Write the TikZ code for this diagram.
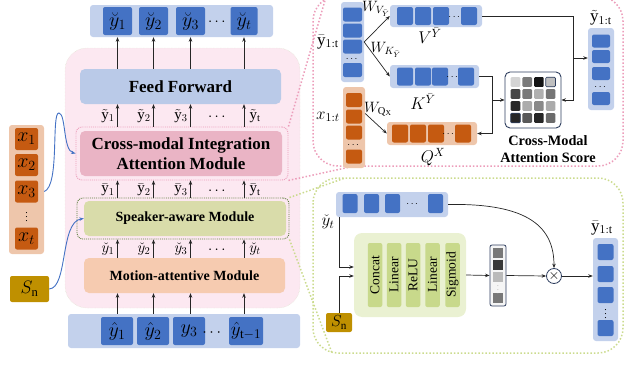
\RequirePackage{fix-cm}
\documentclass[tikz,border=0pt]{standalone}
\usepackage{amssymb}
\usepackage{amsmath}
\usepackage{fontspec}
\setmainfont{Liberation Serif}
\usepackage{tikz}
\usetikzlibrary{arrows,arrows.meta,calc}

\definecolor{cellblue}{HTML}{4472C4}
\definecolor{barblue}{HTML}{C3D1EC}
\definecolor{ffblue}{HTML}{BACAE8}
\definecolor{pinkbg}{HTML}{FCE8F1}
\definecolor{cmiapink}{HTML}{EAB4C5}
\definecolor{spkgreen}{HTML}{D9DCAA}
\definecolor{motionorg}{HTML}{F6CBB0}
\definecolor{cellorange}{HTML}{C55A11}
\definecolor{barorange}{HTML}{EEC6AB}
\definecolor{snGold}{HTML}{BF9000}
\definecolor{pinkdot}{HTML}{EC9DBA}
\definecolor{greendot}{HTML}{CBDB8E}
\definecolor{darkgreen}{HTML}{5E7F3E}
\definecolor{faintgreen}{HTML}{D5E2C4}
\definecolor{modgreen}{HTML}{EAF1D2}
\definecolor{layergreen}{HTML}{C8D98B}
\definecolor{navy}{HTML}{2F3F5F}

\tikzset{
	cell/.style={fill=cellblue, rounded corners=2pt, inner sep=0pt, minimum width=29pt, minimum height=28pt, font=\fontsize{20}{22}\selectfont},
	ocell/.style={cell, fill=cellorange},
	bar/.style={fill=barblue, rounded corners=3pt, inner sep=0pt},
	module/.style={rounded corners=5pt, inner sep=0pt, align=center, font=\bfseries\fontsize{14}{16}\selectfont},
	lbl/.style={inner sep=0pt, font=\fontsize{15}{17}\selectfont},
	rlbl/.style={inner sep=0pt, font=\fontsize{17}{19}\selectfont},
	wlbl/.style={inner sep=0pt, font=\fontsize{15}{17}\selectfont},
	dotlbl/.style={inner sep=0pt, font=\fontsize{10}{12}\selectfont},
	layer/.style={fill=layergreen, rounded corners=2pt, inner sep=0pt, minimum width=64pt, minimum height=14.5pt, rotate=90, font=\fontsize{13.5}{15}\selectfont},
	arr/.style={-{Stealth[length=4.5pt,width=3.5pt]}, line width=0.7pt, black!85},
	curvy/.style={-{Stealth[length=4.5pt,width=3.5pt]}, line width=0.9pt, cellblue},
	pinkline/.style={pinkdot, line width=1.5pt, dash pattern=on 1.5pt off 2pt},
	greenline/.style={greendot, line width=1.5pt, dash pattern=on 1.5pt off 2pt}
}

\begin{document}
\begin{tikzpicture}[x=1pt,y=-1pt]
	\useasboundingbox (0,0) rectangle (625,367);
	
	%REGIONS
	\draw[fill=pinkbg, draw=faintgreen, densely dotted, rounded corners=22pt] (65,48) rectangle (300,308);	%main block
	\draw[pinkline, rounded corners=25pt] (313,-4) rectangle (623,166);	%zoom of cross-modal
	\draw[greenline, rounded corners=25pt] (313,178) rectangle (623,353);	%zoom of speaker-aware
	
	%OUTPUT
	\node[bar, minimum width=183pt, minimum height=32pt] (outbar) at (181.5,21) {};
	\node[cell] (o1) at (117.5,21) {$\breve{y}_1$};
	\node[cell] (o2) at (153.5,21) {$\breve{y}_2$};
	\node[cell] (o3) at (190.5,21) {$\breve{y}_3$};
	\node[lbl] (od) at (218,22) {$\cdots$};
	\node[cell, minimum width=27pt] (o4) at (244,21) {$\breve{y}_t$};
	
	%MODULES
	\node[module, fill=ffblue, minimum width=201pt, minimum height=35pt, font=\bfseries\fontsize{17}{19}\selectfont] (ff) at (180.5,86.5) {Feed Forward};
	\node[module, fill=cmiapink, minimum width=202pt, minimum height=45pt, font=\bfseries\fontsize{17}{20}\selectfont] (cmia) at (181,153.5) {Cross-modal Integration\\Attention Module};
	\node[draw=pinkdot, densely dotted, line width=0.9pt, rounded corners=6pt, minimum width=212pt, minimum height=53pt] (cmiaout) at (182,153.5) {};
	\node[module, fill=spkgreen, minimum width=202pt, minimum height=35pt] (spk) at (185,218.5) {Speaker-aware Module};
	\node[draw=darkgreen, densely dotted, line width=0.9pt, rounded corners=6pt, minimum width=212pt, minimum height=41pt] (spkout) at (183,218.5) {};
	\node[module, fill=motionorg, minimum width=201pt, minimum height=35pt] (mot) at (184.5,275.5) {Motion-attentive Module};
	
	%INPUT
	\node[bar, minimum width=232pt, minimum height=34pt] (inbar) at (184,331) {};
	\node[cell, minimum width=32pt] (i1) at (117,331) {$\hat{y}_1$};
	\node[cell, minimum width=32pt] (i2) at (153,331) {$\hat{y}_2$};
	\node[cell, minimum width=32pt] (i3) at (189,331) {$y_3$};
	\node[lbl, font=\fontsize{16}{18}\selectfont] (id) at (213,333) {$\cdots$};
	\node[cell, minimum width=34pt, font=\fontsize{19}{21}\selectfont] (i4) at (246,331) {$\hat{y}_{\mathrm{t}-1}$};
	
	%VERTICAL ARROWS
	\foreach \c in {o1,o2,o3,o4}{
		\draw[arr] (ff.north -| \c) -- (outbar.south -| \c);
		\draw[arr] (cmiaout.north -| \c) -- (ff.south -| \c);
		\draw[arr] (spkout.north -| \c) -- (cmiaout.south -| \c);
		\draw[arr] (mot.north -| \c) -- (spkout.south -| \c);
		\draw[arr] (inbar.north -| \c) -- (mot.south -| \c);
	}
	
	%LABELS BETWEEN MODULES
	\node[lbl] (t1) at (108,116) {$\tilde{\mathrm{y}}_1$};
	\node[lbl] (t2) at (144,116) {$\tilde{\mathrm{y}}_2$};
	\node[lbl] (t3) at (181,116) {$\tilde{\mathrm{y}}_3$};
	\node[lbl] (td) at (218,117) {$\cdots$};
	\node[lbl] (t4) at (255,116) {$\tilde{\mathrm{y}}_\mathrm{t}$};
	%
	\node[lbl] (b1) at (108,190) {$\bar{\mathrm{y}}_1$};
	\node[lbl] (b2) at (144,190) {$\bar{\mathrm{y}}_2$};
	\node[lbl] (b3) at (181,190) {$\bar{\mathrm{y}}_3$};
	\node[lbl] (bd) at (218,191) {$\cdots$};
	\node[lbl] (b4) at (255,190) {$\bar{\mathrm{y}}_\mathrm{t}$};
	%
	\node[lbl] (c1) at (108,249) {$\check{y}_1$};
	\node[lbl] (c2) at (144,249) {$\check{y}_2$};
	\node[lbl] (c3) at (181,249) {$\check{y}_3$};
	\node[lbl] (cd) at (218,250) {$\cdots$};
	\node[lbl] (c4) at (255,249) {$\check{y}_t$};
	
	%LEFT INPUTS
	\node[bar, fill=barorange, minimum width=35pt, minimum height=129pt] (xbar) at (26.5,189.5) {};
	\node[ocell, minimum width=23pt, minimum height=22pt] (x1) at (26.5,139) {$x_1$};
	\node[ocell, minimum width=23pt, minimum height=22pt] (x2) at (26.5,165) {$x_2$};
	\node[ocell, minimum width=23pt, minimum height=22pt] (x3) at (26.5,191.5) {$x_3$};
	\node[dotlbl] (xd) at (26.5,214) {$\vdots$};
	\node[ocell, minimum width=23pt, minimum height=22pt] (x4) at (26.5,238.5) {$x_t$};
	\node[cell, fill=snGold, minimum width=39pt, minimum height=26pt, font=\fontsize{18}{20}\selectfont] (sn) at (29.5,289) {$S_\mathrm{n}$};
	%
	\draw[curvy] (xbar.east |- x3) .. controls (60,186) and (51,112) .. (59,113) .. controls (66,114) and (63,150) .. (cmiaout.west);
	\draw[curvy] (sn.east) .. controls (68,288) and (60,222) .. (spk.west);
	
	%ZOOM CONNECTORS
	\coordinate (ptop) at (326,-3);
	\coordinate (pbot) at (350,167);
	\coordinate (gtop) at (345,178);
	\coordinate (gbot) at (332,353);
	\draw[pinkline] (cmiaout.north east) -- (ptop);
	\draw[pinkline] (cmiaout.south east) -- (pbot);
	\draw[greenline] (spkout.north east) -- (gtop);
	\draw[greenline] (spkout.south east) -- (gbot);
	
	%CROSS-MODAL DETAIL
	\node[bar, minimum width=23pt, minimum height=80pt] (ybar) at (352.5,42) {};
	\foreach \y in {14.5,30.5,46.5,70}
		\node[cell, minimum width=19pt, minimum height=14pt] at (352.5,\y) {};
	\node[dotlbl] (ybd) at (352.5,59) {$\cdots$};
	\node[rlbl] (ylab) at (328,42) {$\bar{\mathrm{y}}_{1:\mathrm{t}}$};
	%
	\node[bar, minimum width=92pt, minimum height=22pt] (vbar) at (436,16) {};
	\foreach \x in {405,423,441,469}
		\node[cell, minimum width=16pt, minimum height=18pt] at (\x,16) {};
	\node[dotlbl] (vbd) at (455,17) {$\cdots$};
	\node[rlbl] (vlab) at (430,36) {$V^{\bar{Y}}$};
	%
	\node[bar, minimum width=89pt, minimum height=23pt] (kbar) at (434.5,76.5) {};
	\foreach \x in {405,423,440,466}
		\node[cell, minimum width=16pt, minimum height=18pt] at (\x,76.5) {};
	\node[dotlbl] (kbd) at (453,77.5) {$\cdots$};
	\node[rlbl] (klab) at (423,102) {$K^{\bar{Y}}$};
	%
	\node[wlbl] (wv) at (376,9) {$W_{V_{\bar{Y}}}$};
	\node[wlbl] (wk) at (386,50) {$W_{K_{\bar{Y}}}$};
	\draw[arr] (ybar.east) -- (vbar.west);
	\draw[arr] (ybar.east) -- (kbar.west);
	%
	\node[bar, fill=barorange, minimum width=22pt, minimum height=81pt] (xcol) at (354,127.5) {};
	\foreach \y in {100,116.5,132.5,156.5}
		\node[ocell, minimum width=16pt, minimum height=14pt] at (354,\y) {};
	\node[dotlbl] (xcd) at (354,145) {$\cdots$};
	\node[rlbl] (xlab) at (328,117) {$x_{1:t}$};
	%
	\node[bar, fill=barorange, minimum width=90pt, minimum height=23pt] (qbar) at (432,133.5) {};
	\foreach \x in {400,418,436,463}
		\node[ocell, minimum width=16pt, minimum height=18pt] at (\x,133.5) {};
	\node[dotlbl] (qbd) at (449,134.5) {$\cdots$};
	\node[rlbl] (qlab) at (433,157) {$Q^{X}$};
	\node[wlbl] (wq) at (378,109) {$W_{\mathrm{Q_X}}$};
	\draw[arr] ([yshift=14pt]xcol.east) -- (qbar.west);
	%
	\node[draw=navy, fill=white, line width=0.9pt, rounded corners=5pt, minimum width=56pt, minimum height=56pt] (att) at (533,100) {};
	\foreach \r/\c/\g in {0/0/17,0/1/52,0/2/92,0/3/25,
		1/0/73,1/1/53,1/2/31,1/3/54,
		2/0/84,2/1/33,2/2/46,2/3/33,
		3/0/85,3/1/65,3/2/85,3/3/58}
		\fill[black!\g, rounded corners=1pt] ($(515.5+11.7*\c,82+12*\r)+(-4.8,-4.8)$) rectangle ++(9.6,9.6);
	\draw[navy, line width=0.7pt, rounded corners=1pt] (545.8,77.2) rectangle ++(9.6,9.6);
	\draw[navy, line width=0.7pt, rounded corners=1pt] (510.7,113.2) rectangle ++(9.6,9.6);
	\node[font=\bfseries\fontsize{14.3}{17}\selectfont, align=center, inner sep=0pt] (attlab) at (548,149) {Cross-Modal\\Attention Score};
	%
	\node[bar, minimum width=26pt, minimum height=82pt] (ytcol) at (601,69) {};
	\foreach \y in {41,56.5,73.5,98.5}
		\node[cell, minimum width=18pt, minimum height=13pt] at (601,\y) {};
	\node[dotlbl] (ytd) at (601,87) {$\cdots$};
	\node[rlbl] (ytlab) at (601,18) {$\tilde{\mathrm{y}}_{1:\mathrm{t}}$};
	%
	\coordinate (vx) at ($(att.east)+(12,0)$);
	\coordinate (kx) at ($(kbar.east)+(13,0)$);
	\draw[arr] (vbar.east) -| (vx) -- (att.east);
	\draw[arr] (vx |- 0,58) -- (ytcol.west |- 0,58);
	\draw[arr] (kbar.east) -| (kx |- qbar.east) -- (qbar.east);
	\draw[arr] (kx |- att.west) -- (att.west);
	
	%SPEAKER-AWARE DETAIL
	\node[bar, minimum width=112pt, minimum height=25pt] (gbar) at (392,204.5) {};
	\foreach \x in {350,371.5,392.5,435.5}
		\node[cell, minimum width=15pt, minimum height=19pt] at (\x,203.5) {};
	\node[dotlbl] (gbd) at (413,204.5) {$\cdots$};
	\node[rlbl] (gylab) at (328,222) {$\check{y}_t$};
	%
	\node[fill=modgreen, rounded corners=8pt, minimum width=112pt, minimum height=84pt] (gate) at (410,275) {};
	\node[layer] (l1) at (375,275) {Concat};
	\node[layer] (l2) at (394,275) {Linear};
	\node[layer] (l3) at (413,275) {ReLU};
	\node[layer] (l4) at (432.5,275) {Linear};
	\node[layer] (l5) at (452.5,275) {Sigmoid};
	%
	\node[cell, fill=snGold, minimum width=26pt, minimum height=19pt, font=\fontsize{16}{18}\selectfont] (sn2) at (339,322.5) {$S_\mathrm{n}$};
	\draw[arr] ([xshift=4pt]gbar.south west) |- ([yshift=8pt]gate.west);
	\draw[arr] (sn2.north) |- ([yshift=-1pt]gate.west);
	%
	\node[draw=navy, fill=black!4, line width=0.8pt, rounded corners=2pt, minimum width=16pt, minimum height=61pt] (gvec) at (498,275.5) {};
	\foreach \y/\g in {253/53,265/78,277/27,298/53}
		\fill[black!\g] (493,\y-5) rectangle ++(10,10);
	\node[lbl, font=\fontsize{7}{8}\selectfont, text=black!40] (gvd) at (498,287) {$\vdots$};
	\draw[arr] (gate.east) -- (gvec.west);
	%
	\node[circle, draw=navy, line width=0.8pt, minimum size=15pt, inner sep=0pt, font=\fontsize{14}{16}\selectfont] (mul) at (554,276) {$\times$};
	\draw[arr] (gvec.east) -- (mul.west);
	\draw[arr] (gbar.east) .. controls (530,203) and (554,228) .. (mul.north);
	%
	\node[bar, minimum width=25pt, minimum height=103pt] (gcol) at (605.5,289.5) {};
	\foreach \y in {252,274,295,328}
		\node[cell, minimum width=16pt, minimum height=16pt] at (605.5,\y) {};
	\node[dotlbl] (gcd) at (605.5,311) {$\vdots$};
	\node[rlbl] (gclab) at (602,228) {$\bar{\mathrm{y}}_{1:\mathrm{t}}$};
	\draw[arr] (mul.east) -- (gcol.west |- mul.east);
	
	%\draw[help lines] (0,0) grid (625,367);
\end{tikzpicture}
\end{document}
